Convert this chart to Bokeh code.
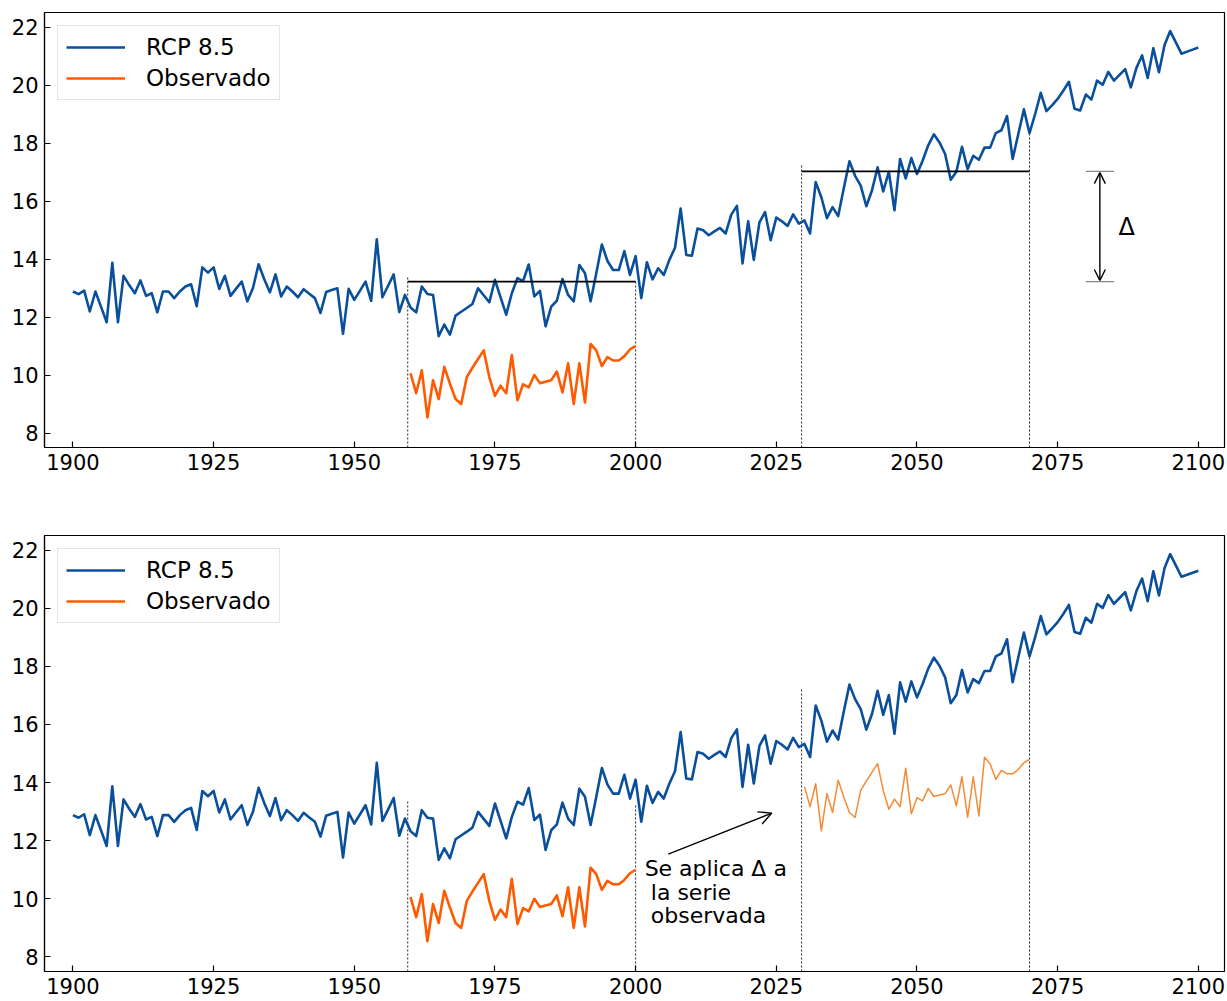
from bokeh.plotting import figure
from bokeh.models import Range1d, FixedTicker, Legend, LegendItem, Arrow, OpenHead
from bokeh.layouts import column
from bokeh.embed import file_html
from bokeh.resources import INLINE
from bokeh.core.properties import value

# ---------------- data ----------------
years = list(range(1900, 2101))
rcp85 = [
    12.88, 12.79, 12.91, 12.19, 12.88, 12.35, 11.82, 13.87, 11.82, 13.42,
    13.10, 12.82, 13.26, 12.73, 12.82, 12.16, 12.88, 12.88, 12.65, 12.88,
    13.05, 13.13, 12.37, 13.71, 13.53, 13.71, 12.97, 13.42, 12.73, 12.98,
    13.22, 12.54, 13.00, 13.82, 13.30, 12.85, 13.47, 12.71, 13.05, 12.88,
    12.68, 12.96, 12.80, 12.65, 12.14, 12.86, 12.93, 12.99, 11.42, 12.97,
    12.59, 12.90, 13.22, 12.56, 14.68, 12.68, 13.07, 13.47, 12.17, 12.76,
    12.33, 12.16, 13.05, 12.79, 12.76, 11.34, 11.74, 11.39, 12.05, 12.18,
    12.31, 12.45, 12.99, 12.75, 12.51, 13.28, 12.68, 12.08, 12.82, 13.34,
    13.24, 13.81, 12.71, 12.90, 11.68, 12.36, 12.56, 13.31, 12.76, 12.54,
    13.79, 13.51, 12.54, 13.50, 14.50, 13.93, 13.62, 13.62, 14.27, 13.45,
    14.10, 12.65, 13.89, 13.30, 13.68, 13.45, 13.97, 14.39, 15.74, 14.14,
    14.11, 15.05, 14.99, 14.82, 14.95, 15.07, 14.88, 15.53, 15.83, 13.85,
    15.30, 13.97, 15.26, 15.62, 14.65, 15.43, 15.30, 15.14, 15.54, 15.22,
    15.33, 14.88, 16.65, 16.13, 15.41, 15.79, 15.48, 16.45, 17.37, 16.87,
    16.53, 15.82, 16.36, 17.16, 16.33, 17.01, 15.68, 17.45, 16.78, 17.48,
    16.93, 17.39, 17.92, 18.30, 18.02, 17.62, 16.73, 17.01, 17.87, 17.10,
    17.56, 17.42, 17.84, 17.84, 18.34, 18.44, 18.93, 17.45, 18.30, 19.16,
    18.34, 19.00, 19.73, 19.10, 19.30, 19.52, 19.80, 20.11, 19.18, 19.12,
    19.67, 19.50, 20.15, 20.01, 20.45, 20.15, 20.35, 20.55, 19.92, 20.59,
    21.02, 20.24, 21.27, 20.44, 21.38, 21.86, 21.47, 21.08, 21.15, 21.22,
    21.29,
]

obs_years = list(range(1960, 2001))
observado = [
    10.06, 9.37, 10.16, 8.54, 9.82, 9.17, 10.28, 9.70, 9.17, 9.00,
    9.93, 10.25, 10.55, 10.85, 9.93, 9.28, 9.63, 9.37, 10.69, 9.13,
    9.68, 9.57, 10.00, 9.72, 9.77, 9.82, 10.12, 9.40, 10.40, 9.00,
    10.40, 9.05, 11.07, 10.85, 10.31, 10.62, 10.50, 10.50, 10.65, 10.88,
    11.00,
]

fut_years = list(range(2030, 2071))
base_level = 13.22      # horizontal line 1960-2000
future_level = 17.02    # horizontal line 2030-2070
delta = future_level - base_level
observado_shift = [v + delta for v in observado]

period_x = [1959.5, 2000, 2029.5, 2070]
period_top = [13.41, 13.25, 17.22, 18.36]
mean_x0 = [1959.5, 2029.5]
mean_x1 = [2000, 2070]
mean_y = [base_level, future_level]

xticks = [1900, 1925, 1950, 1975, 2000, 2025, 2050, 2075, 2100]
yticks = [8, 10, 12, 14, 16, 18, 20, 22]
series_labels = ["RCP 8.5", "Observado"]
note_lines = ["Se aplica \u0394 a", "la serie", "observada"]

BLUE = "#0a4f9b"
ORANGE = "#ff5a00"
ORANGE2 = "#f58a33"
FONT = "DejaVu Sans"
X0, X1 = 1894.95, 2104.65
Y0, Y1 = 7.5, 22.5


def make_fig(height, top, bottom):
    p = figure(width=1227, height=height,
               x_range=Range1d(X0, X1), y_range=Range1d(Y0, Y1),
               output_backend="svg", toolbar_location=None,
               min_border_left=44, min_border_right=3,
               min_border_top=top, min_border_bottom=bottom)
    p.grid.visible = False
    p.outline_line_color = "black"
    p.outline_line_width = 1.2
    p.border_fill_color = "white"
    p.background_fill_color = "white"
    p.xaxis.ticker = FixedTicker(ticks=xticks)
    p.yaxis.ticker = FixedTicker(ticks=yticks)
    for ax in (p.xaxis[0], p.yaxis[0]):
        ax.major_tick_in = 6
        ax.major_tick_out = 0
        ax.minor_tick_in = 0
        ax.minor_tick_out = 0
        ax.axis_line_color = "black"
        ax.axis_line_width = 1.2
        ax.major_tick_line_color = "black"
        ax.major_tick_line_width = 1.2
        ax.major_label_text_font = FONT
        ax.major_label_text_font_size = "21px"
        ax.major_label_text_color = "black"
        ax.major_label_standoff = 6

    # vertical dotted period markers
    p.segment(x0=period_x, y0=[Y0] * len(period_x), x1=period_x, y1=period_top,
              line_color="#222222", line_width=1, line_dash="2 2")

    r1 = p.line(years, rcp85, line_color=BLUE, line_width=2.6, line_join="round")
    r2 = p.line(obs_years, observado, line_color=ORANGE, line_width=2.6, line_join="round")

    legend = Legend(items=[LegendItem(label=series_labels[0], renderers=[r1]),
                           LegendItem(label=series_labels[1], renderers=[r2])],
                    location="top_left", margin=13, padding=8, spacing=5,
                    glyph_width=59, glyph_height=20, label_height=20,
                    label_standoff=21,
                    label_text_font=FONT, label_text_font_size="23px",
                    label_text_color="black",
                    border_line_color="#cccccc", border_line_width=1.2,
                    background_fill_color="white", background_fill_alpha=1.0)
    p.add_layout(legend)
    return p


# ---------------- top panel ----------------
p1 = make_fig(491, 12, 44)
p1.segment(x0=mean_x0, y0=mean_y, x1=mean_x1, y1=mean_y,
           line_color="black", line_width=1.6)
p1.segment(x0=[2080, 2080], y0=mean_y, x1=[2085, 2085], y1=mean_y,
           line_color="#888888", line_width=1.4)
p1.add_layout(Arrow(start=OpenHead(size=11, line_width=1.4, line_color="black"),
                    end=OpenHead(size=11, line_width=1.4, line_color="black"),
                    x_start=2082.5, y_start=base_level + 0.04,
                    x_end=2082.5, y_end=future_level - 0.04,
                    line_width=1.4, line_color="black"))
p1.text(x=[2085.8], y=[15.1], text=["\u0394"], text_font=value(FONT),
        text_font_size=value("24px"), text_baseline="middle", text_align="left",
        text_color="black")

# ---------------- bottom panel ----------------
p2 = make_fig(510, 44, 30)
p2.line(fut_years, observado_shift, line_color=ORANGE2, line_width=1.5, line_join="round")
p2.add_layout(Arrow(end=OpenHead(size=13, line_width=1.4, line_color="black"),
                    x_start=2005.8, y_start=11.54, x_end=2024.2, y_end=12.95,
                    line_width=1.4, line_color="black"))
p2.text(x=[2001.6, 2002.7, 2002.7], y=[11.04, 10.22, 9.43], text=note_lines,
        text_font=value(FONT), text_font_size=value("22px"),
        text_baseline="middle", text_align="left", text_color="black")

layout = column(p1, p2)
open("out.html", "w").write(file_html(layout, INLINE, title="RCP 8.5"))
